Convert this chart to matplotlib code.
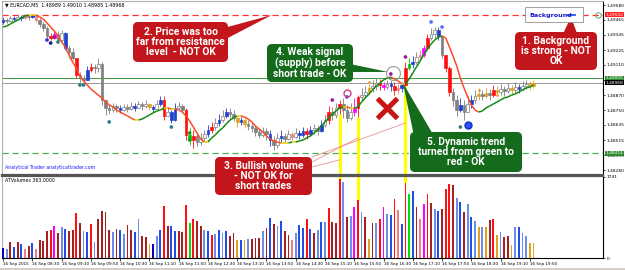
import numpy as np
import matplotlib
matplotlib.use("Agg")
import matplotlib.pyplot as plt
from matplotlib.collections import LineCollection
from matplotlib.patches import FancyBboxPatch, Polygon, Rectangle
from matplotlib.lines import Line2D
from matplotlib.transforms import IdentityTransform, blended_transform_factory

W, H = 625, 270

# EURCAD M5, 16 Sep 2015
open0 = 1.49447
close = [1.49462, 1.49455, 1.49478, 1.49470, 1.49486, 1.49478, 1.49494, 1.49486, 1.49502, 1.49462,
         1.49431, 1.49399, 1.49336, 1.49321, 1.49352, 1.49305, 1.49360, 1.49242, 1.49210, 1.49163,
         1.49029, 1.49005, 1.48990, 1.49068, 1.49092, 1.49084, 1.49116, 1.48832, 1.48769, 1.48753,
         1.48785, 1.48769, 1.48753, 1.48777, 1.48761, 1.48785, 1.48769, 1.48800, 1.48785, 1.48800,
         1.48777, 1.48761, 1.48800, 1.48832, 1.48706, 1.48737, 1.48674, 1.48769, 1.48785, 1.48753,
         1.48556, 1.48517, 1.48548, 1.48501, 1.48533, 1.48564, 1.48596, 1.48619, 1.48651, 1.48674,
         1.48706, 1.48737, 1.48722, 1.48690, 1.48659, 1.48674, 1.48643, 1.48627, 1.48611, 1.48580,
         1.48556, 1.48588, 1.48564, 1.48517, 1.48477, 1.48533, 1.48548, 1.48525, 1.48564, 1.48540,
         1.48572, 1.48556, 1.48588, 1.48564, 1.48596, 1.48611, 1.48588, 1.48635, 1.48674, 1.48737,
         1.48714, 1.48769, 1.48800, 1.48753, 1.48690, 1.48737, 1.48769, 1.48856, 1.48871, 1.48895,
         1.48927, 1.48942, 1.48966, 1.48950, 1.48934, 1.48958, 1.48942, 1.48911, 1.48927, 1.48950,
         1.49084, 1.49116, 1.49131, 1.49171, 1.49187, 1.49242, 1.49321, 1.49352, 1.49384, 1.49336,
         1.49187, 1.49084, 1.48895, 1.48832, 1.48753, 1.48793, 1.48737, 1.48800, 1.48832, 1.48864,
         1.48879, 1.48864, 1.48887, 1.48871, 1.48911, 1.48895, 1.48919, 1.48903, 1.48927, 1.48911,
         1.48934, 1.48919, 1.48942, 1.48958, 1.48942, 1.48968]
high = [1.49486, 1.49478, 1.49494, 1.49494, 1.49502, 1.49502, 1.49510, 1.49502, 1.49510, 1.49502,
        1.49478, 1.49447, 1.49415, 1.49360, 1.49384, 1.49376, 1.49384, 1.49368, 1.49265, 1.49242,
        1.49163, 1.49053, 1.49029, 1.49100, 1.49124, 1.49116, 1.49163, 1.49131, 1.48832, 1.48800,
        1.48808, 1.48800, 1.48793, 1.48800, 1.48800, 1.48816, 1.48808, 1.48824, 1.48816, 1.48832,
        1.48808, 1.48793, 1.48832, 1.48864, 1.48864, 1.48769, 1.48753, 1.48808, 1.48816, 1.48800,
        1.48769, 1.48611, 1.48596, 1.48580, 1.48572, 1.48596, 1.48635, 1.48659, 1.48690, 1.48722,
        1.48753, 1.48769, 1.48769, 1.48753, 1.48706, 1.48698, 1.48690, 1.48674, 1.48659, 1.48635,
        1.48611, 1.48619, 1.48611, 1.48596, 1.48548, 1.48572, 1.48596, 1.48572, 1.48596, 1.48580,
        1.48611, 1.48596, 1.48619, 1.48611, 1.48627, 1.48643, 1.48635, 1.48674, 1.48714, 1.48785,
        1.48777, 1.48808, 1.48832, 1.48848, 1.48793, 1.48808, 1.48848, 1.48871, 1.48927, 1.48942,
        1.48958, 1.48990, 1.49005, 1.48997, 1.48974, 1.48990, 1.48982, 1.48974, 1.48958, 1.48974,
        1.49131, 1.49163, 1.49179, 1.49210, 1.49226, 1.49265, 1.49352, 1.49399, 1.49407, 1.49407,
        1.49344, 1.49187, 1.49100, 1.48927, 1.48871, 1.48848, 1.48832, 1.48864, 1.48871, 1.48911,
        1.48927, 1.48911, 1.48927, 1.48919, 1.48950, 1.48942, 1.48958, 1.48942, 1.48966, 1.48950,
        1.48974, 1.48958, 1.48982, 1.48990, 1.48982, 1.48990]
low = [1.49431, 1.49439, 1.49447, 1.49455, 1.49462, 1.49455, 1.49470, 1.49462, 1.49478, 1.49447,
       1.49407, 1.49376, 1.49321, 1.49305, 1.49313, 1.49281, 1.49289, 1.49226, 1.49163, 1.49147,
       1.49005, 1.48974, 1.48974, 1.48990, 1.49053, 1.49045, 1.49053, 1.48793, 1.48714, 1.48722,
       1.48737, 1.48737, 1.48730, 1.48745, 1.48737, 1.48753, 1.48745, 1.48769, 1.48753, 1.48769,
       1.48753, 1.48737, 1.48753, 1.48785, 1.48674, 1.48706, 1.48651, 1.48667, 1.48753, 1.48730,
       1.48517, 1.48477, 1.48454, 1.48469, 1.48477, 1.48501, 1.48540, 1.48572, 1.48596, 1.48627,
       1.48659, 1.48690, 1.48690, 1.48667, 1.48619, 1.48635, 1.48611, 1.48596, 1.48580, 1.48548,
       1.48533, 1.48540, 1.48517, 1.48469, 1.48438, 1.48454, 1.48501, 1.48493, 1.48517, 1.48509,
       1.48533, 1.48525, 1.48540, 1.48525, 1.48548, 1.48564, 1.48556, 1.48580, 1.48619, 1.48643,
       1.48674, 1.48690, 1.48722, 1.48690, 1.48659, 1.48674, 1.48706, 1.48698, 1.48832, 1.48848,
       1.48871, 1.48895, 1.48911, 1.48911, 1.48911, 1.48919, 1.48903, 1.48871, 1.48879, 1.48895,
       1.48942, 1.49068, 1.49084, 1.49116, 1.49147, 1.49171, 1.49226, 1.49305, 1.49321, 1.49305,
       1.49163, 1.49053, 1.48864, 1.48785, 1.48706, 1.48737, 1.48674, 1.48737, 1.48769, 1.48808,
       1.48832, 1.48832, 1.48848, 1.48832, 1.48856, 1.48864, 1.48871, 1.48864, 1.48887, 1.48879,
       1.48887, 1.48887, 1.48903, 1.48919, 1.48911, 1.48927]
# dynamic trend line
ma = [1.49407, 1.49415, 1.49431, 1.49447, 1.49462, 1.49478, 1.49494, 1.49502, 1.49502, 1.49502,
      1.49486, 1.49470, 1.49439, 1.49407, 1.49376, 1.49336, 1.49289, 1.49250, 1.49187, 1.49131,
      1.49084, 1.49021, 1.48982, 1.48950, 1.48919, 1.48895, 1.48871, 1.48848, 1.48816, 1.48793,
      1.48777, 1.48753, 1.48737, 1.48722, 1.48706, 1.48690, 1.48674, 1.48674, 1.48682, 1.48698,
      1.48714, 1.48730, 1.48745, 1.48753, 1.48769, 1.48769, 1.48761, 1.48761, 1.48753, 1.48737,
      1.48706, 1.48667, 1.48619, 1.48572, 1.48525, 1.48501, 1.48501, 1.48533, 1.48556, 1.48588,
      1.48611, 1.48643, 1.48674, 1.48690, 1.48706, 1.48706, 1.48698, 1.48682, 1.48659, 1.48627,
      1.48603, 1.48580, 1.48548, 1.48525, 1.48509, 1.48501, 1.48493, 1.48493, 1.48493, 1.48501,
      1.48501, 1.48509, 1.48517, 1.48533, 1.48548, 1.48572, 1.48596, 1.48627, 1.48659, 1.48690,
      1.48722, 1.48745, 1.48769, 1.48777, 1.48777, 1.48769, 1.48769, 1.48777, 1.48816, 1.48848,
      1.48879, 1.48911, 1.48942, 1.48966, 1.48990, 1.49005, 1.49013, 1.48997, 1.48982, 1.48958,
      1.48958, 1.48997, 1.49045, 1.49092, 1.49139, 1.49187, 1.49234, 1.49273, 1.49305, 1.49328,
      1.49336, 1.49321, 1.49250, 1.49179, 1.49100, 1.49005, 1.48927, 1.48856, 1.48793, 1.48753,
      1.48737, 1.48745, 1.48769, 1.48785, 1.48800, 1.48816, 1.48832, 1.48848, 1.48856, 1.48871,
      1.48879, 1.48895, 1.48911, 1.48927, 1.48934, 1.48950]
vol = [207, 185, 336, 243, 350, 300, 185, 257, 314, 192,
       386, 365, 587, 601, 687, 529, 658, 615, 572, 601,
       974, 759, 587, 558, 730, 350, 830, 1017, 995, 601,
       565, 615, 601, 515, 709, 601, 565, 830, 472, 458,
       300, 300, 472, 601, 1117, 687, 687, 587, 587, 565,
       1139, 744, 830, 802, 687, 601, 587, 493, 515, 601,
       529, 587, 472, 544, 386, 386, 386, 400, 407, 422,
       422, 587, 637, 852, 730, 687, 802, 587, 493, 386,
       529, 709, 637, 830, 615, 529, 601, 780, 780, 1067,
       780, 759, 1691, 1641, 873, 902, 1089, 1246, 995, 873,
       400, 744, 759, 830, 1089, 945, 924, 1261, 1031, 730,
       1619, 1375, 1447, 1089, 830, 1160, 1375, 1189, 1046, 1017,
       1046, 1476, 1590, 1569, 1282, 1210, 995, 1160, 888, 802,
       658, 658, 658, 816, 845, 493, 565, 458, 472, 279,
       658, 658, 544, 472, 314, 314]
vcol = ["db", "lb", "dr", "b", "dr", "b", "lr", "dr", "b", "lr",
        "dr", "dr", "dr", "r", "m", "dr", "lb", "b", "dr", "dr",
        "r", "dr", "lb", "b", "r", "lb", "dr", "dr", "dr", "dr",
        "lb", "dr", "b", "lb", "dr", "dr", "b", "lb", "dr", "dr",
        "o", "db", "lb", "b", "r", "dr", "b", "b", "dr", "dr",
        "r", "g", "r", "dr", "dr", "lb", "b", "r", "lb", "b",
        "lb", "b", "dr", "dr", "o", "b", "o", "lb", "dr", "dr",
        "dr", "lb", "dr", "b", "dr", "lb", "b", "dr", "dr", "lr",
        "lb", "b", "b", "r", "b", "dr", "lb", "b", "lb", "r",
        "dr", "dr", "r", "lb", "dr", "lb", "m", "r", "lb", "dr",
        "o", "dr", "lb", "r", "m", "lb", "b", "r", "lr", "b",
        "r", "g", "b", "dr", "lr", "m", "r", "dr", "lb", "b",
        "dr", "r", "r", "dr", "lb", "b", "dr", "lb", "b", "lb",
        "o", "lb", "o", "dr", "r", "o", "lb", "dr", "dr", "o",
        "lb", "b", "lb", "lb", "o", "o"]

time_labels = ["16 Sep 2015", "16 Sep 08:30", "16 Sep 09:10", "16 Sep 09:50", "16 Sep 10:30",
               "16 Sep 11:10", "16 Sep 11:50", "16 Sep 12:30", "16 Sep 13:10", "16 Sep 13:50",
               "16 Sep 14:30", "16 Sep 15:10", "16 Sep 15:50", "16 Sep 16:30", "16 Sep 17:10",
               "16 Sep 17:50", "16 Sep 18:30", "16 Sep 19:10", "16 Sep 19:50"]
price_ticks = [1.49580, 1.49465, 1.49345, 1.49225, 1.49110, 1.48990,
               1.48870, 1.48750, 1.48635, 1.48515, 1.48395, 1.48280]
resistance = 1.49502
support = 1.48414
level_green = 1.49005
bid = 1.48968
yellow_bars = [92, 97, 110]

# VSA signal dots
sig_bar = [12, 13, 14, 15, 21, 22, 29, 46, 51, 51, 90, 94, 106, 110, 117, 120, 125]
sig_price = [1.49305, 1.49281, 1.49328, 1.49289, 1.48950, 1.48950, 1.48659, 1.48619, 1.48572,
             1.48517, 1.48832, 1.48856, 1.49037, 1.49171, 1.49447, 1.49407, 1.48619]
sig_col = ["#2233dd", "#1a1a8a", "#a0189a", "#2d7f80", "#2d7f80", "#2d7f80", "#2d7f80", "#2d7f80",
           "#1c9a1c", "#1c9a1c", "#a0189a", "#3050f0", "#a0189a", "#a0189a", "#5070f5", "#5070f5",
           "#2d7f80"]
small_bar = [100, 130, 135, 144]
small_price = [1.48974, 1.48911, 1.48871, 1.48958]

vmap = {"db": "#0000c8", "b": "#1f4fe8", "lb": "#6b8fe8", "dr": "#a52020", "r": "#ff1010",
        "lr": "#f08080", "m": "#ff00ff", "o": "#e0a020", "g": "#00e000"}
cmap = {"db": "#1f3fd0", "b": "#1f3fd0", "r": "#ff1010", "lr": "#f08080", "m": "#ff00ff",
        "o": "#e0a020", "g": "#00c000"}
small_font = ["DejaVu Sans Condensed", "Liberation Sans Narrow", "DejaVu Sans"]
box_font = ["Liberation Sans Narrow", "DejaVu Sans Condensed", "Roboto"]

x = np.arange(len(close))
opens = np.array([open0] + close[:-1])
closes = np.array(close)
highs = np.maximum(np.array(high), np.maximum(opens, closes))
lows = np.minimum(np.array(low), np.minimum(opens, closes))

fig = plt.figure(figsize=(W / 100, H / 100), dpi=100)
fig.patch.set_facecolor("white")
ax = fig.add_axes([2 / W, 1 - 175 / H, 601 / W, 174 / H])
axv = fig.add_axes([2 / W, 1 - 258 / H, 601 / W, 82 / H])

ax.set_xlim(-0.3, 164.0)
ax.set_ylim(1.48241, 1.49612)
axv.set_xlim(-0.3, 164.0)
axv.set_ylim(0, 1762)

# horizontal levels
ax.axhline(resistance, color="#ff3030", lw=0.9, dashes=(5, 3), zorder=1)
ax.axhline(support, color="#4caf50", lw=0.9, dashes=(5, 3), zorder=1)
ax.axhline(level_green, color="#3a9a3a", lw=0.7, zorder=1)
ax.axhline(bid, color="#9a9a9a", lw=0.7, zorder=1)

# yellow marks for the bullish volume bars
for b in yellow_bars:
    ax.vlines(b, 1.48241, lows[b], color="#ffff00", lw=2.2, zorder=2)
    axv.vlines(b, vol[b], 1762, color="#ffff00", lw=2.2, zorder=2)

# candles
fcs, ecs = [], []
for i in range(len(close)):
    c = vcol[i]
    if c in cmap:
        fcs.append(cmap[c]); ecs.append(cmap[c])
    elif closes[i] >= opens[i]:
        fcs.append("white"); ecs.append("#7f7f7f")
    else:
        fcs.append("#7f7f7f"); ecs.append("#7f7f7f")
ax.vlines(x, lows, highs, colors=ecs, lw=0.6, zorder=3)
body = np.maximum(np.abs(closes - opens), 0.00002)
ax.bar(x, body, bottom=np.minimum(opens, closes), width=0.72, color=fcs,
       edgecolor=ecs, linewidth=0.5, zorder=4)

# dynamic trend line, coloured by direction
pts = np.column_stack([x, ma])
segs = np.stack([pts[:-1], pts[1:]], axis=1)
d = np.diff(ma)
seg_cols = ["#0f8a0f" if v > 0.00004 else ("#ff4a26" if v < -0.00004 else "#f5d000") for v in d]
ax.add_collection(LineCollection(segs, colors=seg_cols, linewidths=1.1, zorder=5))

# signal markers
ax.scatter(sig_bar, sig_price, s=7, c=sig_col, zorder=6, linewidths=0)
ax.scatter(small_bar, small_price, s=4, c="#f0a030", zorder=6, linewidths=0)
ax.plot(127, 1.48635, marker="o", ms=5, color="#2a50ff", mec="#1030c0", zorder=6)
ax.plot(94, 1.48887, marker="o", ms=5, mfc="none", mec="#d04080", mew=1.0, zorder=6)
ax.plot(106.5, 1.49045, marker="o", ms=10, mfc="none", mec="#9a9a9a", mew=0.8, zorder=6)
ax.plot(105, 1.48769, marker="x", ms=14, mew=3.6, color="#c81414", zorder=6)
ax.plot(162.7, resistance, marker="o", ms=4, mfc="none", mec="#6aa86a", mew=0.7, zorder=6,
        clip_on=False)

# axes styling
ax.set_xticks([])
ax.yaxis.tick_right()
ax.set_yticks(price_ticks)
# the 1.48990 label is hidden behind the coloured price labels in the original
ax.set_yticklabels(["" if p == 1.48990 else f"{p:.5f}" for p in price_ticks], family=small_font)
ax.tick_params(axis="y", length=1.5, width=0.5, pad=1, labelsize=3.2)
for s in ["left", "top"]:
    ax.spines[s].set_color("#b0b0b0"); ax.spines[s].set_linewidth(0.8)
ax.spines["right"].set_color("black"); ax.spines["right"].set_linewidth(0.8)
ax.spines["bottom"].set_color("#555555"); ax.spines["bottom"].set_linewidth(1.6)

axv.bar(x, vol, width=0.5, color=[vmap[c] for c in vcol], zorder=3)
axv.yaxis.tick_right()
axv.set_yticks([0, 1741])
axv.set_yticklabels(["0", "1741"], family=small_font)
axv.set_xticks(np.arange(0, 145, 8))
axv.set_xticklabels(time_labels, family=small_font)
for lab in axv.get_xticklabels():
    lab.set_horizontalalignment("left")
axv.tick_params(axis="x", length=2, width=0.5, pad=1, labelsize=3.0)
axv.tick_params(axis="y", length=1.5, width=0.5, pad=1, labelsize=3.2)
axv.spines["top"].set_color("#555555"); axv.spines["top"].set_linewidth(1.6)
axv.spines["left"].set_color("#b0b0b0")
for s in ["right", "bottom"]:
    axv.spines[s].set_color("black"); axv.spines[s].set_linewidth(0.8)

# coloured price labels on the right scale
bt = blended_transform_factory(ax.transAxes, ax.transData)
for p, fc in [(resistance, "#ff2020"), (level_green, "#2e8b2e"), (bid, "black"), (support, "#2e8b2e")]:
    ax.text(1.004, p, f"{p:.5f}", transform=bt, fontsize=3.2, family=small_font, color="white",
            va="center", ha="left", zorder=8, clip_on=False,
            bbox=dict(boxstyle="square,pad=0.12", fc=fc, ec="none"))

# small texts
fig.text(5 / W, 1 - 5 / H, "\u25bc EURCAD,M5  1.48989 1.49010 1.48985 1.48968", fontsize=3.4,
         family=small_font, va="center", ha="left")
fig.text(5 / W, 1 - 167 / H, "Analytical Trader analyticaltrader.com", fontsize=3.4,
         family=small_font, va="center", ha="left", color="#1a1aff")
fig.text(5 / W, 1 - 180 / H, "ATVolumes 363.0000", fontsize=3.4, family=small_font,
         va="center", ha="left")

# annotation callouts (pixel layout)
idt = IdentityTransform()


def pix(px, py):
    return (px, H - py)


def callout(box, text, fc, base, tip):
    x0, y0, x1, y1 = box
    fig.add_artist(Polygon([pix(*base[0]), pix(*base[1]), tip], closed=True, fc=fc, ec="none",
                           transform=idt, zorder=10))
    fig.add_artist(FancyBboxPatch(pix(x0, y1), x1 - x0, y1 - y0,
                                  boxstyle="round,pad=0,rounding_size=5", fc=fc, ec="none",
                                  transform=idt, zorder=10))
    fig.text((x0 + x1) / 2 / W, 1 - (y0 + y1) / 2 / H, text, ha="center", va="center",
             color="white", fontweight="bold", fontsize=7.4, family=box_font, linespacing=1.05,
             zorder=11)


def at(bar, price):
    return tuple(ax.transData.transform((bar, price)))


red, green = "#c3161c", "#136b1b"
callout((515, 32, 597, 70), "1. Background\nis strong - NOT\nOK", red,
        [(562, 36), (578, 36)], pix(571, 17))
callout((133, 22, 228, 62), "2. Price was too\nfar from resistance\nlevel  - NOT OK", red,
        [(224, 28), (224, 40)], at(73.5, resistance))
callout((215, 157, 312, 195), "3. Bullish volume\n- NOT OK for\nshort trades", red,
        [(300, 160), (300, 161)], pix(301, 160))
callout((267, 44, 353, 82), "4. Weak signal\n(supply) before\nshort trade - OK", green,
        [(350, 64), (350, 72)], at(105.2, 1.49053))
callout((410, 132, 522, 172), "5. Dynamic trend\nturned from green to\nred - OK", green,
        [(414, 136), (434, 136)], at(109.3, 1.48966))

# thin pointer lines from box 3 to the yellow volume marks
for b, p, yy in [(110, 1.48651, 157), (97, 1.48533, 162), (92, 1.48360, 167)]:
    tx, ty = at(b, p)
    fig.add_artist(Line2D([312, tx], [H - yy, ty], color="#f09090", lw=0.6, transform=idt, zorder=9))

# "Background" tag
fig.add_artist(Rectangle(pix(525, 22), 58, 15, fc="white", ec="#909090", lw=0.6,
                         transform=idt, zorder=10))
fig.text(529 / W, 1 - 15 / H, "Background", fontsize=4.6, fontweight="bold", color="#1a1acd",
         va="center", ha="left", zorder=11)
fig.add_artist(Rectangle(pix(567, 16), 9, 2.5, fc="#3a6ee8", ec="none", transform=idt, zorder=11))

# grey strip along the bottom of the terminal window
fig.add_artist(Rectangle((0, 0), W, 2, fc="#d4d0c8", ec="none", transform=idt, zorder=0))

fig.savefig("out.png", dpi=100)
